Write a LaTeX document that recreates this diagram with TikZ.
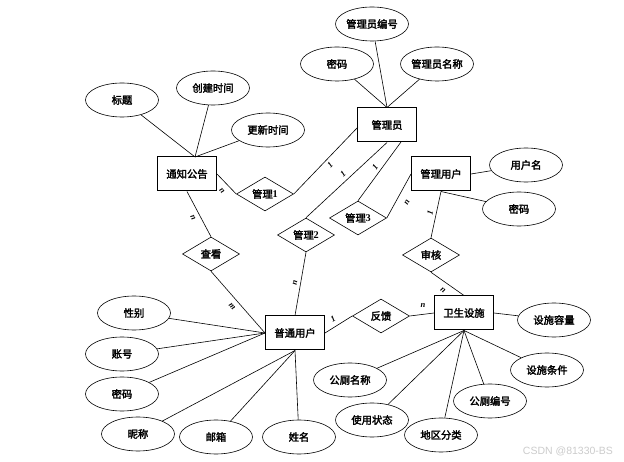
\documentclass[tikz,border=0pt]{standalone}
\usepackage{fontspec}
\setmainfont{Liberation Serif}
\newfontfamily\cjk{Noto Sans CJK SC}[FakeBold=2.3]
\newfontfamily\wmfont{Liberation Sans}
\usetikzlibrary{shapes.geometric}
\tikzset{
  txt/.style={font=\cjk\fontsize{10.3}{12}\selectfont},
  entity/.style={txt, draw, rectangle, line width=1pt, minimum width=59pt, minimum height=34pt, inner sep=0pt},
  attr/.style={txt, draw, ellipse, line width=0.6pt, minimum width=73pt, minimum height=34pt, inner sep=0pt},
  rel/.style={txt, draw, diamond, aspect=1.7, line width=0.6pt, minimum width=57pt, minimum height=34pt, inner sep=0pt},
  card/.style={font=\bfseries\itshape\fontsize{8.5}{9}\selectfont, inner sep=0pt},
  link/.style={line width=0.6pt},
}
\begin{document}
\begin{tikzpicture}[x=1pt, y=-1pt]
\fill[white] (0,0) rectangle (624,462);
\useasboundingbox (0,0) rectangle (624,462);

% entities
\node[entity] (tz) at (187,174) {通知公告};
\node[entity] (gly) at (387,125) {管理员};
\node[entity] (glyh) at (441,174) {管理用户};
\node[entity] (pt) at (295,333) {普通用户};
\node[entity] (ws) at (464,313) {卫生设施};

% relationships
\node[rel] (gl1) at (265,194) {管理{\rmfamily\bfseries 1}};
\node[rel] (gl2) at (306,235) {管理{\rmfamily\bfseries 2}};
\node[rel] (gl3) at (358,218) {管理{\rmfamily\bfseries 3}};
\node[rel] (ck) at (211,254) {查看};
\node[rel] (sh) at (431,255) {审核};
\node[rel] (fk) at (381,316) {反馈};

% attributes
\node[attr] (bt) at (122,100) {标题};
\node[attr] (cj) at (213,88) {创建时间};
\node[attr] (gx) at (268,130) {更新时间};
\node[attr] (glybh) at (372,24) {管理员编号};
\node[attr] (mm1) at (337,64) {密码};
\node[attr] (glymc) at (437,64) {管理员名称};
\node[attr] (yhm) at (526,165) {用户名};
\node[attr] (mm2) at (519,209) {密码};
\node[attr] (xb) at (134,313) {性别};
\node[attr] (zh) at (122,354) {账号};
\node[attr] (mm3) at (122,394) {密码};
\node[attr] (nc) at (138,434) {昵称};
\node[attr] (yx) at (216,437) {邮箱};
\node[attr] (xm) at (299,437) {姓名};
\node[attr] (ssrl) at (554,320) {设施容量};
\node[attr] (gcmc) at (350,380) {公厕名称};
\node[attr] (syzt) at (372,420) {使用状态};
\node[attr] (dqfl) at (441,435) {地区分类};
\node[attr] (gcbh) at (490,401) {公厕编号};
\node[attr] (sstj) at (547,370) {设施条件};

% junction points on entity borders
\coordinate (tzT) at (195,157);
\coordinate (glyL) at (358,127);
\coordinate (glyB3) at (401,142);

% attribute links
\draw[link] (bt) -- (tzT);
\draw[link] (cj) -- (tzT);
\draw[link] (gx) -- (tzT);
\draw[link] (mm1) -- (gly.north);
\draw[link] (glybh) -- (gly.north);
\draw[link] (glymc) -- (gly.north);
\draw[link] (glyh.east) -- (yhm);
\draw[link] (glyh.south) -- (mm2);
\draw[link] (xb) -- (pt.west);
\draw[link] (zh) -- (pt.west);
\draw[link] (mm3) -- (pt.west);
\draw[link] (nc) -- (pt.south);
\draw[link] (yx) -- (pt.south);
\draw[link] (xm) -- (pt.south);
\draw[link] (ws.east) -- (ssrl);
\draw[link] (gcmc) -- (ws.south);
\draw[link] (syzt) -- (ws.south);
\draw[link] (dqfl) -- (ws.south);
\draw[link] (gcbh) -- (ws.south);
\draw[link] (sstj) -- (ws.south);

% relationship links
\draw[link] (tz.east) -- (gl1.west);
\draw[link] (gl1.east) -- (glyL);
\draw[link] (gl2.north) -- (gly.south);
\draw[link] (gl3.north) -- (glyB3);
\draw[link] (gl3.east) -- (glyh.west);
\draw[link] (glyh.south) -- (sh.north);
\draw[link] (sh.south) -- (ws.north);
\draw[link] (pt.east) -- (fk.west);
\draw[link] (fk.east) -- (ws.west);
\draw[link] (tz.south) -- (ck.north);
\draw[link] (ck.south) -- (pt.west);
\draw[link] (gl2.south) -- (pt.north);

% cardinalities
\node[card, rotate=-48] (c1) at (222,191) {n};
\node[card, rotate=46] (c2) at (330,165) {1};
\node[card, rotate=43] (c3) at (343,174) {1};
\node[card, rotate=54] (c4) at (375,167) {1};
\node[card, rotate=60] (c5) at (407,202) {n};
\node[card, rotate=77] (c6) at (430,213) {1};
\node[card, rotate=-63] (c7) at (193,218) {n};
\node[card, rotate=-48] (c8) at (232,307) {m};
\node[card, rotate=80] (c9) at (295,283) {n};
\node[card, rotate=31] (c10) at (333,319) {1};
\node[card] (c11) at (423,305) {n};
\node[card, rotate=-37] (c12) at (443,290) {n};

% watermark
\node[font=\wmfont\fontsize{10.5}{12}\selectfont, text=black!20, inner sep=0pt] (wm) at (568,451) {CSDN @81330-BS};
\end{tikzpicture}
\end{document}
